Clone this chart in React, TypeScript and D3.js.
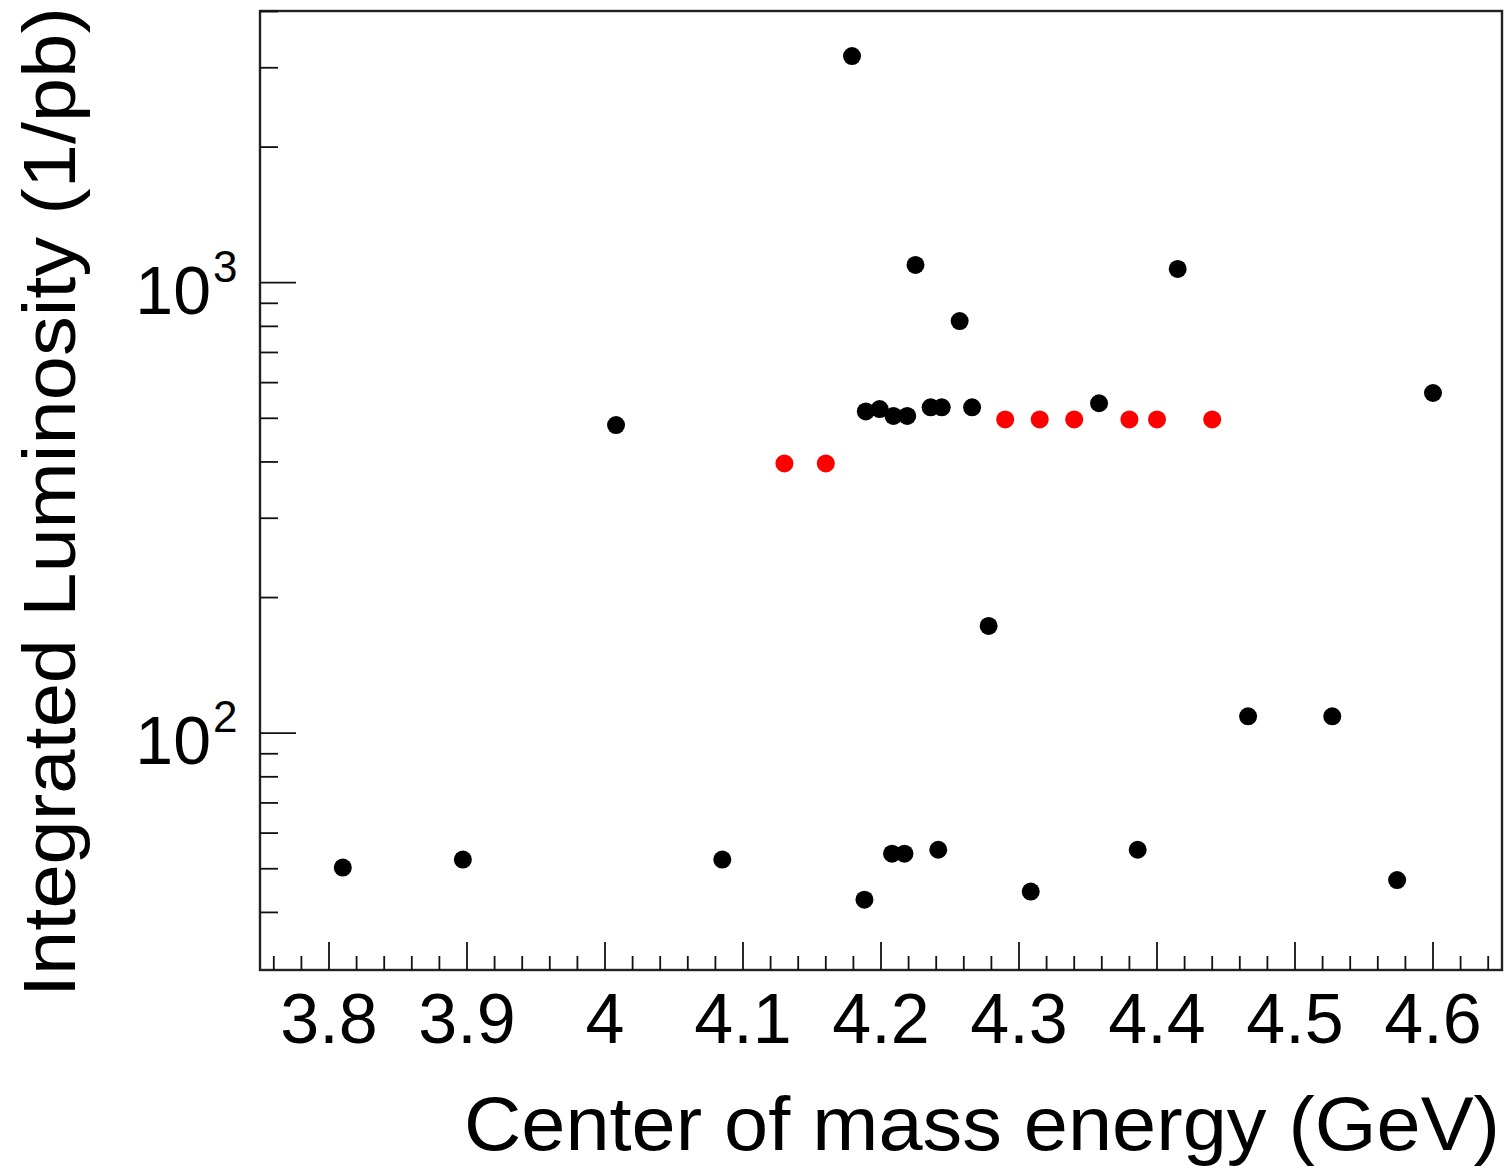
import React, { useEffect, useRef } from "react";
import * as d3 from "d3";

// taken data points (black)
const takenEnergy = [
  3.81, 3.897, 4.008, 4.085, 4.179, 4.188, 4.189, 4.199, 4.208, 4.209, 4.217, 4.219,
  4.225, 4.236, 4.2415, 4.244, 4.257, 4.266, 4.278, 4.3085, 4.358, 4.386, 4.415,
  4.466, 4.527, 4.574, 4.6,
];
const takenLumi = [
  50.3, 52.4, 483, 52.4, 3185, 42.7, 518, 524, 54, 506, 54, 506,
  1095, 529, 55.1, 529, 822, 529, 173, 44.5, 540, 55.1, 1073,
  109, 109, 47.2, 569,
];

// planned points (red)
const plannedEnergy = [4.13, 4.16, 4.29, 4.315, 4.34, 4.38, 4.4, 4.44];
const plannedLumi = [397, 397, 497, 497, 497, 497, 497, 497];

const xTickLabels = ["3.8", "3.9", "4", "4.1", "4.2", "4.3", "4.4", "4.5", "4.6"];
const yDecades = [100, 1000];

const W = 1511;
const H = 1170;
const frame = { left: 260, right: 1502, top: 11, bottom: 970 };
const font = "'Liberation Sans', Arial, Helvetica, sans-serif";

export default function App() {
  const svgRef = useRef<SVGSVGElement>(null);

  useEffect(() => {
    const svg = d3.select(svgRef.current);
    svg.selectAll("*").remove();

    const x = d3.scaleLinear().domain([3.75, 4.65]).range([frame.left, frame.right]);
    const y = d3.scaleLog().domain([29.8, 4010]).range([frame.bottom, frame.top]);

    svg.append("rect").attr("width", W).attr("height", H).attr("fill", "#fff");

    // frame
    svg.append("rect")
      .attr("x", frame.left)
      .attr("y", frame.top)
      .attr("width", frame.right - frame.left)
      .attr("height", frame.bottom - frame.top)
      .attr("fill", "none")
      .attr("stroke", "#222")
      .attr("stroke-width", 2.4);

    // x ticks: major every 0.1, minor every 0.02
    const xMinor = d3.range(188, 233).map(i => i / 50);
    svg.append("g").selectAll("line")
      .data(xMinor)
      .enter()
      .append("line")
      .attr("x1", d => x(d))
      .attr("x2", d => x(d))
      .attr("y1", frame.bottom)
      .attr("y2", (d, i) => frame.bottom - ((i + 188) % 5 === 0 ? 28 : 14))
      .attr("stroke", "#111")
      .attr("stroke-width", 1.8);

    svg.append("g").selectAll("text")
      .data(xTickLabels)
      .enter()
      .append("text")
      .attr("x", d => x(+d))
      .attr("y", 1043)
      .attr("text-anchor", "middle")
      .attr("font-family", font)
      .attr("font-size", 70)
      .attr("fill", "#000")
      .text(d => d);

    // y ticks (log)
    const yTicks: number[] = [];
    [10, 100, 1000].forEach(dec => {
      for (let k = 1; k < 10; k++) {
        const v = dec * k;
        if (v > 31 && v <= 4010) yTicks.push(v);
      }
    });
    svg.append("g").selectAll("line")
      .data(yTicks)
      .enter()
      .append("line")
      .attr("x1", frame.left)
      .attr("x2", d => frame.left + (yDecades.includes(d) ? 36 : 18))
      .attr("y1", d => y(d))
      .attr("y2", d => y(d))
      .attr("stroke", "#111")
      .attr("stroke-width", 1.8);

    const yl = svg.append("g");
    yDecades.forEach(d => {
      yl.append("text")
        .attr("x", 211)
        .attr("y", y(d) + 31)
        .attr("text-anchor", "end")
        .attr("font-family", font)
        .attr("font-size", 68)
        .text("10");
      yl.append("text")
        .attr("x", 213)
        .attr("y", y(d) - 1)
        .attr("text-anchor", "start")
        .attr("font-family", font)
        .attr("font-size", 44)
        .text(String(Math.round(Math.log10(d))));
    });

    // points
    const taken = takenEnergy.map((e, i) => ({ e, l: takenLumi[i] }));
    const planned = plannedEnergy.map((e, i) => ({ e, l: plannedLumi[i] }));

    svg.append("g").selectAll("circle")
      .data(taken)
      .enter()
      .append("circle")
      .attr("cx", d => x(d.e))
      .attr("cy", d => y(d.l))
      .attr("r", 9)
      .attr("fill", "#000");

    svg.append("g").selectAll("circle")
      .data(planned)
      .enter()
      .append("circle")
      .attr("cx", d => x(d.e))
      .attr("cy", d => y(d.l))
      .attr("r", 9)
      .attr("fill", "#ff0000");

    // axis titles
    svg.append("text")
      .attr("x", 1500)
      .attr("y", 1150)
      .attr("text-anchor", "end")
      .attr("font-family", font)
      .attr("font-size", 76)
      .attr("textLength", 1036)
      .attr("lengthAdjust", "spacingAndGlyphs")
      .text("Center of mass energy (GeV)");

    svg.append("text")
      .attr("transform", "translate(75,7) rotate(-90)")
      .attr("text-anchor", "end")
      .attr("font-family", font)
      .attr("font-size", 74)
      .attr("textLength", 990)
      .attr("lengthAdjust", "spacingAndGlyphs")
      .text("Integrated Luminosity (1/pb)");
  }, []);

  return (
    <svg
      ref={svgRef}
      width={W}
      height={H}
      style={{ position: "absolute", left: 0, top: 0, display: "block" }}
    />
  );
}
